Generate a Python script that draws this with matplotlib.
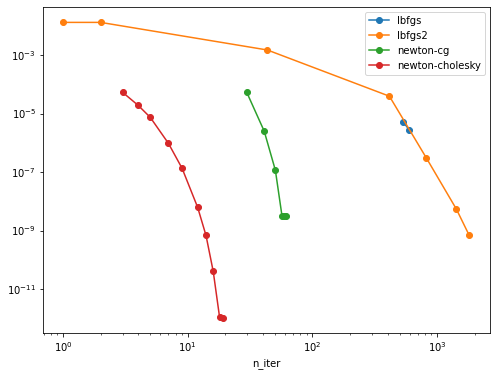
import numpy as np
import matplotlib as mpl
mpl.use('Agg')
import matplotlib.pyplot as plt
from matplotlib.ticker import NullLocator

# n_iter vs. objective suboptimality per solver
lbfgs_iter = [536, 598]
lbfgs_sub = [5.0e-6, 2.75e-6]

lbfgs2_iter = [1, 2, 43.5, 414, 820, 1426, 1803]
lbfgs2_sub = [1.3e-2, 1.3e-2, 1.48e-3, 3.9e-5, 3.0e-7, 5.4e-9, 7.0e-10]

ncg_iter = [29.7, 41, 50.4, 57, 59, 61]
ncg_sub = [5.3e-5, 2.5e-6, 1.15e-7, 3.1e-9, 3.1e-9, 3.1e-9]

nchol_iter = [3, 4, 5, 7, 9, 12, 14, 16, 18, 19]
nchol_sub = [5.3e-5, 1.9e-5, 7.4e-6, 9.5e-7, 1.34e-7, 6.2e-9, 6.8e-10,
             4.0e-11, 1.07e-12, 1.0e-12]

fig = plt.figure(figsize=(496/72, 376/72), dpi=72)
ax = fig.add_axes([0.0867, 0.1144, 0.9013, 0.867])

ax.plot(lbfgs_iter, lbfgs_sub, 'o-', label='lbfgs')
ax.plot(lbfgs2_iter, lbfgs2_sub, 'o-', label='lbfgs2')
ax.plot(ncg_iter, ncg_sub, 'o-', label='newton-cg')
ax.plot(nchol_iter, nchol_sub, 'o-', label='newton-cholesky')

ax.set_xscale('log')
ax.set_yscale('log')
ax.set_xlim(0.69, 2655)
ax.set_ylim(10**-12.5, 10**-1.36)
ax.set_yticks([1e-3, 1e-5, 1e-7, 1e-9, 1e-11])
ax.yaxis.set_minor_locator(NullLocator())
ax.set_xlabel('n_iter')
ax.legend(loc='upper right')

fig.savefig('out.png', dpi=72)
